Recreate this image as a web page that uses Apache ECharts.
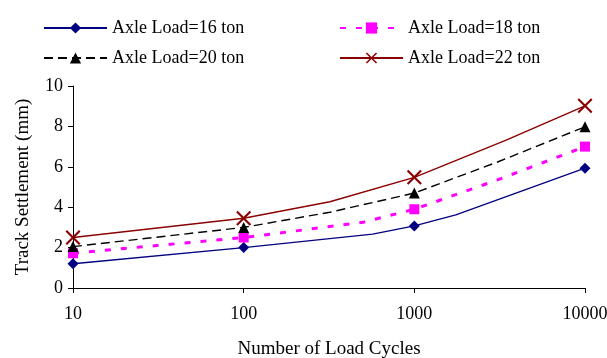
<!DOCTYPE html>
<html>
<head>
<meta charset="utf-8">
<script src="https://cdn.jsdelivr.net/npm/echarts@6/dist/echarts.min.js"></script>
<style>
  html, body { margin: 0; padding: 0; background: #fff; }
  #chart { width: 607px; height: 358px; }
</style>
</head>
<body>
<div id="chart"></div>
<script>
const markedCycles = [10, 100, 1000, 10000];
const xTickLabels = ["10", "100", "1000", "10000"];

const cycles16 = [10, 100, 570, 1000, 1750, 10000];
const load16 = [1.2, 2.0, 2.67, 3.07, 3.62, 5.93];

const cycles18 = [10, 100, 500, 1000, 3000, 10000];
const load18 = [1.72, 2.5, 3.25, 3.9, 5.32, 7.0];

const cycles20 = [10, 100, 320, 1000, 3100, 10000];
const load20 = [2.05, 3.0, 3.75, 4.7, 6.25, 7.98];

const cycles22 = [10, 100, 320, 1000, 3450, 10000];
const load22 = [2.5, 3.45, 4.27, 5.48, 7.32, 9.02];

const font = "Liberation Serif";
const crossPath = "path://M0,1L1,0L5,4L9,0L10,1L6,5L10,9L9,10L5,6L1,10L0,9L4,5Z";

const toData = (xs, ys) =>
  xs.map((x, i) => ({
    value: [x, ys[i]],
    symbol: markedCycles.includes(x) ? undefined : "none",
  }));

const makeSeries = (name, xs, ys, color, symbol, size, lineStyle) => ({
  name,
  type: "line",
  data: toData(xs, ys),
  symbol,
  symbolSize: size,
  showAllSymbol: true,
  itemStyle: { color },
  lineStyle: Object.assign({ color }, lineStyle),
  emphasis: { disabled: true },
  animation: false,
});

const legendText = { fontFamily: font, fontSize: 18, color: "#000" };

const chart = echarts.init(document.getElementById("chart"));

chart.setOption({
  backgroundColor: "#fff",
  textStyle: { fontFamily: font },
  legend: [
    {
      data: ["Axle Load=16 ton", "Axle Load=20 ton"],
      orient: "vertical",
      left: 38,
      top: 14,
      itemWidth: 63,
      itemHeight: 14,
      itemGap: 12,
      textStyle: legendText,
    },
    {
      data: ["Axle Load=18 ton", "Axle Load=22 ton"],
      orient: "vertical",
      left: 334,
      top: 14,
      itemWidth: 63,
      itemHeight: 14,
      itemGap: 12,
      textStyle: legendText,
    },
  ],
  grid: { left: 73, right: 22, top: 86, bottom: 70, outerBoundsMode: "none", containLabel: false },
  xAxis: {
    type: "log",
    logBase: 10,
    min: 10,
    max: 10000,
    name: "Number of Load Cycles",
    nameLocation: "middle",
    nameGap: 52,
    nameTextStyle: { fontFamily: font, fontSize: 19, color: "#000" },
    axisLine: { lineStyle: { color: "#000", width: 1 } },
    axisTick: { show: true, length: 5, lineStyle: { color: "#000" } },
    minorTick: { show: false },
    splitLine: { show: false },
    axisLabel: {
      fontFamily: font,
      fontSize: 18,
      color: "#000",
      margin: 17,
      formatter: (v) => {
        const i = Math.round(Math.log10(v)) - 1;
        return xTickLabels[i] || "";
      },
    },
  },
  yAxis: {
    type: "value",
    min: 0,
    max: 10,
    interval: 2,
    name: "Track Settlement (mm)",
    nameLocation: "middle",
    nameGap: 40,
    nameTextStyle: { fontFamily: font, fontSize: 19, color: "#000" },
    axisLine: { show: true, lineStyle: { color: "#000", width: 1 } },
    axisTick: { show: true, length: 5, lineStyle: { color: "#000" } },
    splitLine: { show: false },
    axisLabel: { fontFamily: font, fontSize: 18, color: "#000", margin: 10 },
  },
  series: [
    makeSeries("Axle Load=16 ton", cycles16, load16, "#000080", "diamond", 11, { width: 1.3, type: "solid" }),
    makeSeries("Axle Load=18 ton", cycles18, load18, "#ff00ff", "rect", 10, { width: 3, type: [6, 10] }),
    makeSeries("Axle Load=20 ton", cycles20, load20, "#000000", "triangle", 11, { width: 1.4, type: [9, 5] }),
    makeSeries("Axle Load=22 ton", cycles22, load22, "#8b0000", crossPath, 15, { width: 1.4, type: "solid" }),
  ],
});
</script>
</body>
</html>
